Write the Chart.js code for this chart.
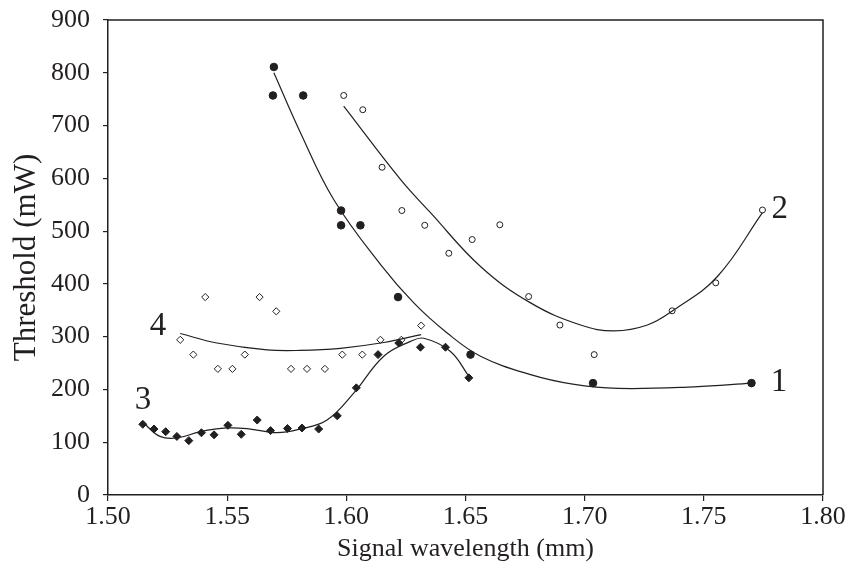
<!DOCTYPE html>
<html>
<head>
<meta charset="utf-8">
<script src="https://cdn.jsdelivr.net/npm/chart.js@4/dist/chart.umd.min.js"></script>
<style>
  html, body { margin: 0; padding: 0; background: #fff; }
  #wrap { width: 861px; height: 565px; }
</style>
</head>
<body>
<div id="wrap"><canvas id="chart"></canvas></div>
<script>
// measured points (wavelength, threshold)
const wave1 = [1.5696, 1.5692, 1.5819, 1.5978, 1.5978, 1.6059, 1.6217, 1.6521, 1.7035, 1.770];
const thr1 = [811, 757, 757, 539, 511, 511, 375, 266, 212, 212];

const wave2 = [1.5989, 1.6069, 1.615, 1.6233, 1.6329, 1.643, 1.6528, 1.6644, 1.6765, 1.6896, 1.704, 1.7367, 1.755, 1.7746];
const thr2 = [757, 730, 621, 539, 511, 458, 484, 512, 376, 322, 266, 349, 402, 540];

const wave3 = [1.5146, 1.5193, 1.5242, 1.5289, 1.5339, 1.5392, 1.5445, 1.5503, 1.5559, 1.5626, 1.5682,
               1.5753, 1.5814, 1.5884, 1.5962, 1.6042, 1.6133, 1.622, 1.6311, 1.6416, 1.6514];
const thr3 = [134, 125, 120, 111, 103, 118, 114, 132, 115, 142, 122, 126, 127, 125, 150, 203, 266, 288, 280, 280, 222];

const wave4 = [1.5303, 1.5358, 1.5408, 1.5461, 1.5522, 1.5574, 1.5636, 1.5706, 1.5768, 1.5835, 1.591,
               1.5983, 1.6067, 1.6143, 1.6231, 1.6314];
const thr4 = [294, 266, 375, 239, 239, 266, 375, 348, 239, 239, 239, 266, 266, 294, 294, 321];

// fitted curves
const fitWave1 = [1.5696, 1.5807, 1.5947, 1.6143, 1.6283, 1.6423, 1.6563, 1.6773, 1.695, 1.714, 1.746, 1.770];
const fitThr1 = [800, 687, 560, 437, 364, 307, 263, 228, 210, 202, 205, 212];
const fitWave2 = [1.5989, 1.6227, 1.6353, 1.6563, 1.6773, 1.6983, 1.7123, 1.7263, 1.7375, 1.7557, 1.7746];
const fitThr2 = [737, 598, 535, 433, 364, 322, 311, 322, 351, 414, 535];
const fitWave3 = [1.5148, 1.5218, 1.5289, 1.5387, 1.5499, 1.5597, 1.5709, 1.5807, 1.5919, 1.6031, 1.6157, 1.6269, 1.6325, 1.6437, 1.6514];
const fitThr3 = [137, 111, 108, 120, 127, 125, 118, 125, 142, 193, 263, 291, 297, 272, 225];
const fitWave4 = [1.5303, 1.5457, 1.5667, 1.5807, 1.5975, 1.6157, 1.6314];
const fitThr4 = [306, 288, 275, 274, 278, 289, 304];

// curve labels and where they sit (data units)
const curveNames = ['1', '2', '3', '4'];
const nameWave = [1.7815, 1.7819, 1.5147, 1.521];
const nameThr = [213, 541, 180, 319];

const ink = '#231f20';
const serif = '"Liberation Serif", "Times New Roman", serif';

function pairs(xs, ys) {
    return xs.map((x, i) => ({ x: x, y: ys[i] }));
}

function fitLine(xs, ys) {
    return {
        type: 'line',
        data: pairs(xs, ys),
        borderColor: ink,
        borderWidth: 1.2,
        pointRadius: 0,
        fill: false,
        tension: 0.4
    };
}

function marks(xs, ys, style, radius, filled) {
    return {
        type: 'scatter',
        data: pairs(xs, ys),
        pointStyle: style,
        pointRadius: radius,
        pointBorderWidth: 1,
        pointBorderColor: ink,
        pointBackgroundColor: filled ? ink : '#fff'
    };
}

// frame on top and right, plus the curve numbers
const framePlugin = {
    id: 'frame',
    afterDraw(chart) {
        const ctx = chart.ctx;
        const a = chart.chartArea;
        ctx.save();
        ctx.strokeStyle = ink;
        ctx.lineWidth = 1.5;
        ctx.beginPath();
        ctx.moveTo(a.left, a.top);
        ctx.lineTo(a.right, a.top);
        ctx.lineTo(a.right, a.bottom);
        ctx.stroke();

        ctx.fillStyle = ink;
        ctx.font = '33px ' + serif;
        ctx.textAlign = 'center';
        ctx.textBaseline = 'middle';
        curveNames.forEach((name, i) => {
            const px = chart.scales.x.getPixelForValue(nameWave[i]);
            const py = chart.scales.y.getPixelForValue(nameThr[i]);
            ctx.fillText(name, px, py);
        });
        ctx.restore();
    }
};

new Chart(document.getElementById('chart'), {
    data: {
        datasets: [
            fitLine(fitWave1, fitThr1),
            fitLine(fitWave2, fitThr2),
            fitLine(fitWave3, fitThr3),
            fitLine(fitWave4, fitThr4),
            marks(wave1, thr1, 'circle', 3.8, true),
            marks(wave2, thr2, 'circle', 3, false),
            marks(wave3, thr3, 'rectRot', 4, true),
            marks(wave4, thr4, 'rectRot', 3.6, false)
        ]
    },
    options: {
        responsive: true,
        maintainAspectRatio: false,
        animation: false,
        layout: { padding: { top: 20, right: 38, left: 0, bottom: 0 } },
        plugins: {
            legend: { display: false },
            tooltip: { enabled: false }
        },
        scales: {
            x: {
                type: 'linear',
                min: 1.5,
                max: 1.8,
                afterFit(scale) {
                    scale.height = 70;
                    scale.paddingLeft = 0;
                    scale.paddingRight = 0;
                },
                border: { display: true, color: ink, width: 1.5 },
                grid: { drawOnChartArea: false, drawTicks: true, tickLength: 6, color: ink, lineWidth: 1.2 },
                ticks: {
                    stepSize: 0.05,
                    autoSkip: false,
                    maxRotation: 0,
                    padding: 1,
                    color: ink,
                    font: { family: serif, size: 26 },
                    callback: v => v.toFixed(2)
                },
                title: {
                    display: true,
                    text: 'Signal wavelength (mm)',
                    color: ink,
                    font: { family: serif, size: 26 },
                    padding: { top: 0, bottom: 0 }
                }
            },
            y: {
                min: 0,
                max: 900,
                afterFit(scale) {
                    scale.width = 108;
                    scale.paddingTop = 0;
                    scale.paddingBottom = 0;
                },
                border: { display: true, color: ink, width: 1.5 },
                grid: { drawOnChartArea: false, drawTicks: true, tickLength: 5, color: ink, lineWidth: 1.2 },
                ticks: {
                    stepSize: 100,
                    padding: 13,
                    color: ink,
                    font: { family: serif, size: 26 }
                },
                title: {
                    display: true,
                    text: 'Threshold (mW)',
                    color: ink,
                    font: { family: serif, size: 31 },
                    padding: { top: 8, bottom: 0 }
                }
            }
        }
    },
    plugins: [framePlugin]
});
</script>
</body>
</html>
